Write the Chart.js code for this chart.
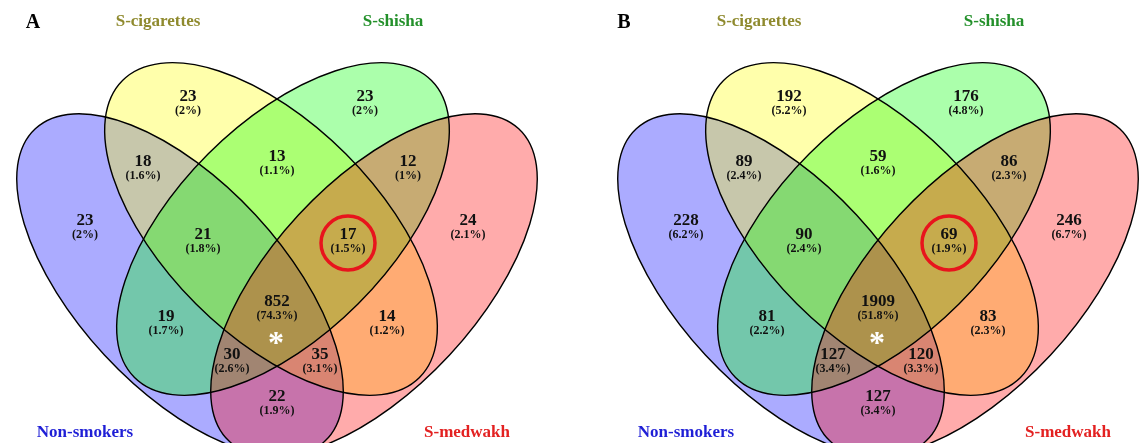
<!DOCTYPE html>
<html>
<head>
<meta charset="utf-8">
<title>Venn diagrams</title>
<script src="https://cdn.jsdelivr.net/npm/chart.js@4.4.1/dist/chart.umd.min.js"></script>
<style>
  body { margin: 0; background: #fff; }
  #wrap { position: relative; width: 1146px; height: 443px; }
  #wrap canvas { position: absolute; top: 0; }
</style>
</head>
<body>
<div id="wrap">
  <canvas id="venn_a" width="573" height="443" style="left:0"></canvas>
  <canvas id="venn_b" width="573" height="443" style="left:573px"></canvas>
</div>
<script>
// sets, in drawing order
var set_names = ['Non-smokers', 'S-cigarettes', 'S-shisha', 'S-medwakh'];
var set_colors = ['#1f1fd6', '#8f8a2e', '#23902a', '#e32121'];

// regions (N = non-smokers, C = cigarettes, S = shisha, M = medwakh)
var region_keys = ['C', 'S', 'NC', 'CS', 'SM', 'N', 'NCS', 'CSM', 'M', 'NS', 'NCSM', 'CM', 'NSM', 'NCM', 'NM'];

// panel A
var counts_a = [23, 23, 18, 13, 12, 23, 21, 17, 24, 19, 852, 14, 30, 35, 22];
var percent_a = [2, 2, 1.6, 1.1, 1, 2, 1.8, 1.5, 2.1, 1.7, 74.3, 1.2, 2.6, 3.1, 1.9];

// panel B
var counts_b = [192, 176, 89, 59, 86, 228, 90, 69, 246, 81, 1909, 83, 127, 120, 127];
var percent_b = [5.2, 4.8, 2.4, 1.6, 2.3, 6.2, 2.4, 1.9, 6.7, 2.2, 51.8, 2.3, 3.4, 3.3, 3.4];

var circled_region = 'CSM';
var starred_region = 'NCSM';

// ---- layout (diagram units, y down) ----
var label_xy = [
  [188, 97], [365, 97], [143, 162], [277, 157], [408, 162],
  [85, 221], [203, 235], [348, 235], [468, 221], [166, 317],
  [277, 302], [387, 317], [232, 355], [320, 355], [277, 397]
];
var ellipses = [
  { cx: 180, cy: 285, a: 213, b: 103, rot: 47.2, fill: 'rgba(0,0,255,0.33)' },
  { cx: 271, cy: 229, a: 210, b: 106, rot: 45, fill: 'rgba(255,255,0,0.33)' },
  { cx: 283, cy: 229, a: 210, b: 106, rot: -45, fill: 'rgba(0,255,0,0.33)' },
  { cx: 374, cy: 285, a: 213, b: 103, rot: -47.2, fill: 'rgba(255,0,0,0.33)' }
];
var name_xy = [[85, 433], [158, 22], [393, 22], [467, 433]];
var star_xy = [276, 338];

var serif = '"Liberation Serif", "Times New Roman", serif';

function vennPlugin(panel) {
  return {
    id: 'venn',
    beforeDatasetsDraw: function (chart) {
      var ctx = chart.ctx, xs = chart.scales.x, ys = chart.scales.y;
      ctx.save();
      function path(e) {
        ctx.beginPath();
        ctx.ellipse(xs.getPixelForValue(e.cx), ys.getPixelForValue(e.cy),
          Math.abs(xs.getPixelForValue(e.a) - xs.getPixelForValue(0)),
          Math.abs(ys.getPixelForValue(e.b) - ys.getPixelForValue(0)),
          e.rot * Math.PI / 180, 0, 2 * Math.PI);
      }
      ellipses.forEach(function (e) {
        path(e);
        ctx.fillStyle = e.fill;
        ctx.fill();
      });
      ctx.strokeStyle = '#000';
      ctx.lineWidth = 1.4;
      ellipses.forEach(function (e) {
        path(e);
        ctx.stroke();
      });
      ctx.restore();
    },
    afterDatasetsDraw: function (chart) {
      var ctx = chart.ctx, xs = chart.scales.x, ys = chart.scales.y;
      var pts = chart.getDatasetMeta(0).data;
      ctx.save();
      ctx.textAlign = 'center';
      ctx.textBaseline = 'middle';
      ctx.fillStyle = '#111';
      pts.forEach(function (pt, i) {
        var d = chart.data.datasets[0].data[i];
        ctx.font = 'bold 17px ' + serif;
        ctx.fillText(String(d.n), pt.x, pt.y);
        ctx.font = 'bold 12px ' + serif;
        ctx.fillText('(' + d.p + '%)', pt.x, pt.y + 14);
      });

      // highlighted region
      var c = pts[region_keys.indexOf(circled_region)];
      ctx.beginPath();
      ctx.arc(c.x, c.y + 8, 27, 0, 2 * Math.PI);
      ctx.strokeStyle = '#e8141c';
      ctx.lineWidth = 3.5;
      ctx.stroke();

      // asterisk on the shared region
      ctx.fillStyle = '#fff';
      ctx.font = 'bold 32px ' + serif;
      ctx.textBaseline = 'alphabetic';
      ctx.fillText('*', xs.getPixelForValue(star_xy[0]), ys.getPixelForValue(star_xy[1]) + 15);

      // set names
      ctx.font = 'bold 17px ' + serif;
      ctx.textBaseline = 'middle';
      set_names.forEach(function (name, i) {
        ctx.fillStyle = set_colors[i];
        ctx.fillText(name, xs.getPixelForValue(name_xy[i][0]), ys.getPixelForValue(name_xy[i][1]));
      });

      // panel letter
      ctx.fillStyle = '#000';
      ctx.font = 'bold 20px ' + serif;
      ctx.fillText(panel.letter, xs.getPixelForValue(panel.letterX), ys.getPixelForValue(23));
      ctx.restore();
    }
  };
}

function vennChart(canvasId, panel) {
  var points = region_keys.map(function (k, i) {
    return { x: label_xy[i][0], y: label_xy[i][1], n: panel.counts[i], p: panel.percent[i] };
  });
  return new Chart(document.getElementById(canvasId), {
    type: 'scatter',
    data: { datasets: [{ label: panel.letter, data: points, pointRadius: 0, pointHoverRadius: 0 }] },
    options: {
      responsive: false,
      animation: false,
      events: [],
      layout: { padding: 0 },
      plugins: { legend: { display: false }, tooltip: { enabled: false } },
      scales: {
        x: { type: 'linear', display: false, min: panel.xMin, max: panel.xMin + 573 },
        y: { type: 'linear', display: false, min: 0, max: 443, reverse: true }
      }
    },
    plugins: [vennPlugin(panel)]
  });
}

vennChart('venn_a', { letter: 'A', letterX: 33, xMin: 0, counts: counts_a, percent: percent_a });
vennChart('venn_b', { letter: 'B', letterX: 23, xMin: -28, counts: counts_b, percent: percent_b });
</script>
</body>
</html>
